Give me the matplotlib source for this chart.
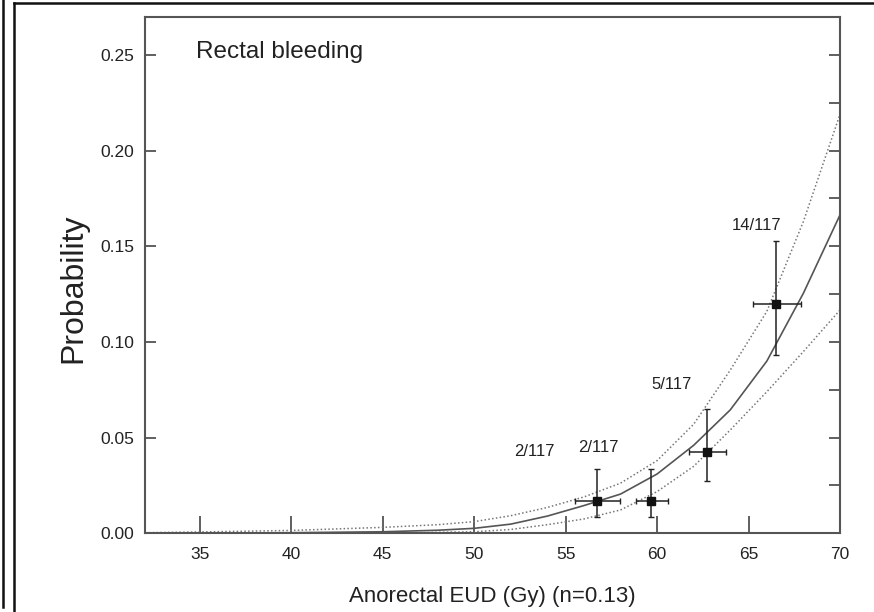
import numpy as np
import matplotlib
matplotlib.use("Agg")
import matplotlib.pyplot as plt
from matplotlib.lines import Line2D

plt.rcParams['font.family'] = ['Liberation Sans', 'DejaVu Sans']

# ---- data ----
curve_x = [32, 35, 40, 45, 48, 50, 52, 54, 56, 58, 60, 62, 64, 66, 68, 70]
fit_y = [0.0000, 0.0001, 0.0003, 0.0008, 0.0016, 0.0026, 0.0048, 0.0090, 0.0145,
         0.0205, 0.0310, 0.0460, 0.0645, 0.0900, 0.1255, 0.1664]
upper_y = [0.0003, 0.0007, 0.0015, 0.0031, 0.0045, 0.0061, 0.0092, 0.0135, 0.0190,
           0.0262, 0.0380, 0.0570, 0.0853, 0.1160, 0.1630, 0.2190]
lower_y = [0.0000, 0.0000, 0.0001, 0.0002, 0.0005, 0.0008, 0.0020, 0.0045, 0.0075,
           0.0122, 0.0218, 0.0350, 0.0540, 0.0740, 0.0950, 0.1167]

pt_x = [56.73, 59.67, 62.74, 66.50]
pt_y = [0.0171, 0.0171, 0.0427, 0.1197]
pt_xlo = [55.51, 58.83, 61.76, 65.22]
pt_xhi = [57.97, 60.58, 63.79, 67.87]
pt_ylo = [0.0084, 0.0084, 0.0273, 0.0933]
pt_yhi = [0.0334, 0.0334, 0.0650, 0.1528]

labels = ["2/117", "2/117", "5/117", "14/117"]
label_x = [53.27, 56.77, 60.81, 65.46]
label_y = [0.0425, 0.0446, 0.0776, 0.1610]

xticks = [35, 40, 45, 50, 55, 60, 65, 70]
yticks = [0.00, 0.05, 0.10, 0.15, 0.20, 0.25]
yticks_right = [0.0, 0.025, 0.05, 0.075, 0.10, 0.125, 0.15, 0.175, 0.20, 0.225, 0.25]

# ---- figure ----
fig = plt.figure(figsize=(8.74, 6.12), dpi=100)
W, H = 874, 612
ax = fig.add_axes([145 / W, 1 - 533.3 / H, (840 - 145) / W, (533.3 - 16.7) / H])

ax.plot(curve_x, fit_y, color='#555555', lw=1.2)
ax.plot(curve_x, upper_y, color='#777777', lw=1.1, linestyle=(0, (1, 1.5)))
ax.plot(curve_x, lower_y, color='#777777', lw=1.1, linestyle=(0, (1, 1.5)))

pt_x_a = np.array(pt_x)
pt_y_a = np.array(pt_y)
xerr = [pt_x_a - np.array(pt_xlo), np.array(pt_xhi) - pt_x_a]
yerr = [pt_y_a - np.array(pt_ylo), np.array(pt_yhi) - pt_y_a]
ax.errorbar(pt_x, pt_y, xerr=xerr, yerr=yerr, fmt='s', color='#111111',
            ms=6, ecolor='#222222', elinewidth=1.1, capsize=2.5, capthick=1.0, zorder=5)

for t, lx, ly in zip(labels, label_x, label_y):
    ax.text(lx, ly, t, ha='center', va='center', fontsize=12, color='#222222')

ax.text(34.8, 0.2515, "Rectal bleeding", ha='left', va='center', fontsize=17.5, color='#222222')

ax.set_xlim(32, 70)
ax.set_ylim(0, 0.27)
ax.set_xticks(xticks)
ax.set_yticks(yticks)
ax.set_xticklabels([str(v) for v in xticks])
ax.set_yticklabels([f"{v:.2f}" for v in yticks])
ax.tick_params(axis='x', direction='in', length=12, width=1.2, color='#444444',
               labelsize=12.5, pad=10, labelcolor='#222222')
ax.tick_params(axis='y', direction='in', length=8, width=1.2, color='#444444',
               labelsize=12.5, pad=8, labelcolor='#222222')

sec = ax.secondary_yaxis('right')
sec.set_yticks(yticks_right)
sec.tick_params(axis='y', direction='in', length=8, width=1.2, color='#444444', labelright=False)
sec.spines['right'].set_visible(False)

for sp in ax.spines.values():
    sp.set_color('#555555')
    sp.set_linewidth(1.5)

ax.set_xlabel("Anorectal EUD (Gy) (n=0.13)", fontsize=16, color='#222222', labelpad=17)
ax.set_ylabel("Probability", fontsize=23, color='#222222')
ax.yaxis.set_label_coords(-0.082, 0.475)

# outer frame lines of the figure panel
fig.add_artist(Line2D([3 / W, 3 / W], [1 - 607 / H, 1], color='#111111', lw=1.8))
fig.add_artist(Line2D([14 / W, 14 / W], [0, 1 - 3 / H], color='#111111', lw=1.8))
fig.add_artist(Line2D([14 / W, 1], [1 - 3 / H, 1 - 3 / H], color='#111111', lw=1.8))

fig.savefig("out.png", dpi=100)
